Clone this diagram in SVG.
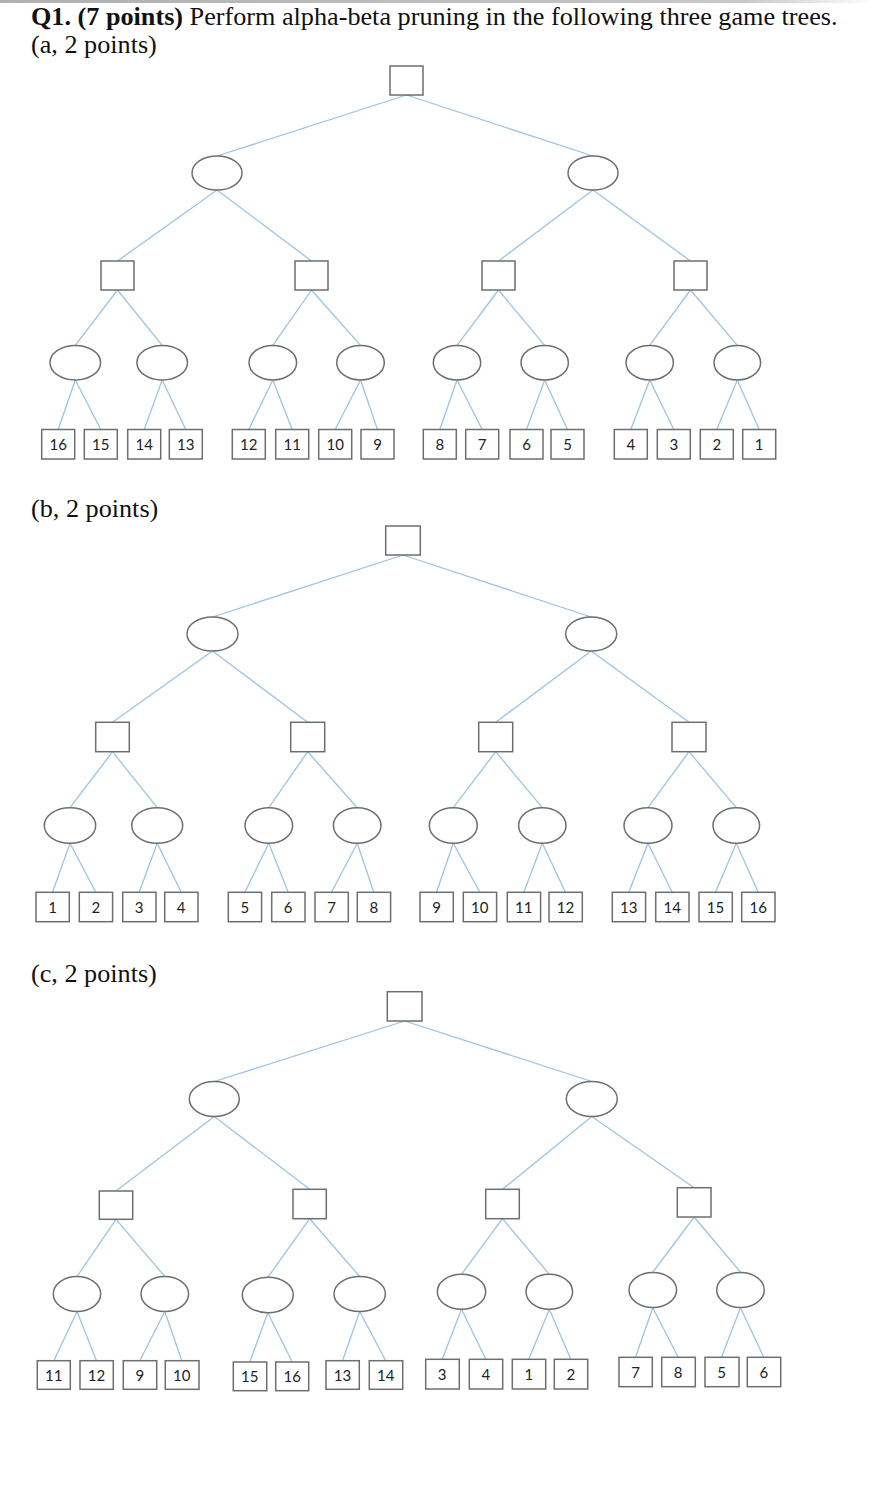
<svg xmlns="http://www.w3.org/2000/svg" width="876" height="1487" viewBox="0 0 876 1487">
<defs>
<linearGradient id="topg" x1="0" y1="0" x2="1" y2="0">
<stop offset="0" stop-color="#b0b0b0"/><stop offset="0.85" stop-color="#c8c8c8"/><stop offset="1" stop-color="#ffffff"/>
</linearGradient>
</defs>
<style>
.sq{fill:#fff;stroke:#6e6e6e;stroke-width:1.5}
.el{fill:#fff;stroke:#6e6e6e;stroke-width:1.5}
.lf{fill:#fff;stroke:#6e6e6e;stroke-width:1.5}
.cn line{stroke:#9dc3e6;stroke-width:1.3}
.num{font-family:Lato,"Open Sans","Liberation Sans",sans-serif;font-size:15px;fill:#222;text-anchor:middle}
.hd{font-family:"Liberation Serif","Times New Roman",serif;font-size:26.2px;fill:#111}
</style>
<rect x="0" y="0" width="876" height="1487" fill="#fff"/>
<rect x="0" y="0" width="876" height="3" fill="url(#topg)"/>
<text class="hd" x="31" y="25"><tspan font-weight="bold">Q1. (7 points)</tspan> Perform alpha-beta pruning in the following three game trees.</text>
<text class="hd" x="31" y="53">(a, 2 points)</text>
<text class="hd" x="31" y="517">(b, 2 points)</text>
<text class="hd" x="31" y="982">(c, 2 points)</text>

<g id="connectors" class="cn">
<!-- tree a -->
<line x1="406.5" y1="95" x2="217" y2="156"/><line x1="406.5" y1="95" x2="593" y2="156"/>
<line x1="217" y1="190" x2="117.5" y2="261"/><line x1="217" y1="190" x2="311.5" y2="261"/>
<line x1="593" y1="190" x2="498.5" y2="261"/><line x1="593" y1="190" x2="690.5" y2="261"/>
<line x1="117.5" y1="290" x2="75.3" y2="345.4"/><line x1="117.5" y1="290" x2="162.2" y2="345.4"/>
<line x1="311.5" y1="290" x2="272.8" y2="345.4"/><line x1="311.5" y1="290" x2="360.5" y2="345.4"/>
<line x1="498.5" y1="290" x2="457" y2="345.4"/><line x1="498.5" y1="290" x2="544.7" y2="345.4"/>
<line x1="690.5" y1="290" x2="649.7" y2="345.4"/><line x1="690.5" y1="290" x2="737.3" y2="345.4"/>
<line x1="75.3" y1="380" x2="58.2" y2="429.5"/><line x1="75.3" y1="380" x2="100.8" y2="429.5"/>
<line x1="162.2" y1="380" x2="144.2" y2="429.5"/><line x1="162.2" y1="380" x2="185.8" y2="429.5"/>
<line x1="272.8" y1="380" x2="248.8" y2="429.5"/><line x1="272.8" y1="380" x2="292.2" y2="429.5"/>
<line x1="360.5" y1="380" x2="335.2" y2="429.5"/><line x1="360.5" y1="380" x2="377.5" y2="429.5"/>
<line x1="457" y1="380" x2="439.8" y2="429.5"/><line x1="457" y1="380" x2="482.2" y2="429.5"/>
<line x1="544.7" y1="380" x2="526.5" y2="429.5"/><line x1="544.7" y1="380" x2="567.5" y2="429.5"/>
<line x1="649.7" y1="380" x2="630.8" y2="429.5"/><line x1="649.7" y1="380" x2="673.8" y2="429.5"/>
<line x1="737.3" y1="380" x2="716.8" y2="429.5"/><line x1="737.3" y1="380" x2="759.2" y2="429.5"/>
<!-- tree b -->
<line x1="403" y1="555" x2="212.5" y2="617"/><line x1="403" y1="555" x2="591.2" y2="617"/>
<line x1="212.5" y1="651" x2="112.5" y2="722.3"/><line x1="212.5" y1="651" x2="307.7" y2="722.3"/>
<line x1="591.2" y1="651" x2="495.7" y2="722.3"/><line x1="591.2" y1="651" x2="689" y2="722.3"/>
<line x1="112.5" y1="751.7" x2="70" y2="807.7"/><line x1="112.5" y1="751.7" x2="157.2" y2="807.7"/>
<line x1="307.7" y1="751.7" x2="268.8" y2="807.7"/><line x1="307.7" y1="751.7" x2="357.2" y2="807.7"/>
<line x1="495.7" y1="751.7" x2="453.3" y2="807.7"/><line x1="495.7" y1="751.7" x2="542.3" y2="807.7"/>
<line x1="689" y1="751.7" x2="648" y2="807.7"/><line x1="689" y1="751.7" x2="736.3" y2="807.7"/>
<line x1="70" y1="843.3" x2="52.5" y2="892.3"/><line x1="70" y1="843.3" x2="95.8" y2="892.3"/>
<line x1="157.2" y1="843.3" x2="139.2" y2="892.3"/><line x1="157.2" y1="843.3" x2="181.2" y2="892.3"/>
<line x1="268.8" y1="843.3" x2="244.8" y2="892.3"/><line x1="268.8" y1="843.3" x2="288.2" y2="892.3"/>
<line x1="357.2" y1="843.3" x2="331.5" y2="892.3"/><line x1="357.2" y1="843.3" x2="373.8" y2="892.3"/>
<line x1="453.3" y1="843.3" x2="436.5" y2="892.3"/><line x1="453.3" y1="843.3" x2="479.8" y2="892.3"/>
<line x1="542.3" y1="843.3" x2="523.8" y2="892.3"/><line x1="542.3" y1="843.3" x2="565.5" y2="892.3"/>
<line x1="648" y1="843.3" x2="628.8" y2="892.3"/><line x1="648" y1="843.3" x2="672.2" y2="892.3"/>
<line x1="736.3" y1="843.3" x2="715.5" y2="892.3"/><line x1="736.3" y1="843.3" x2="758.2" y2="892.3"/>
<!-- tree c -->
<line x1="404.7" y1="1021" x2="214.3" y2="1081.5"/><line x1="404.7" y1="1021" x2="591.8" y2="1081.5"/>
<line x1="214.3" y1="1116.5" x2="116" y2="1191"/><line x1="214.3" y1="1116.5" x2="309.7" y2="1189.3"/>
<line x1="591.8" y1="1116.5" x2="502.5" y2="1189.3"/><line x1="591.8" y1="1116.5" x2="694.2" y2="1187.7"/>
<line x1="116" y1="1219.3" x2="77" y2="1276.5"/><line x1="116" y1="1219.3" x2="164.8" y2="1276.5"/>
<line x1="309.7" y1="1218.7" x2="267.8" y2="1277.3"/><line x1="309.7" y1="1218.7" x2="359.7" y2="1276.5"/>
<line x1="502.5" y1="1218.7" x2="461.5" y2="1274.3"/><line x1="502.5" y1="1218.7" x2="549.3" y2="1274.3"/>
<line x1="694.2" y1="1217" x2="652.8" y2="1272.2"/><line x1="694.2" y1="1217" x2="740.5" y2="1272.2"/>
<line x1="77" y1="1311.5" x2="53.8" y2="1360.7"/><line x1="77" y1="1311.5" x2="96.5" y2="1360.7"/>
<line x1="164.8" y1="1311.5" x2="139.8" y2="1360.7"/><line x1="164.8" y1="1311.5" x2="181.8" y2="1360.7"/>
<line x1="267.8" y1="1312.7" x2="249.8" y2="1362"/><line x1="267.8" y1="1312.7" x2="292.2" y2="1362"/>
<line x1="359.7" y1="1311.5" x2="342.5" y2="1360.7"/><line x1="359.7" y1="1311.5" x2="385.8" y2="1360.7"/>
<line x1="461.5" y1="1309.3" x2="442.2" y2="1359.3"/><line x1="461.5" y1="1309.3" x2="485.8" y2="1359.3"/>
<line x1="549.3" y1="1309.3" x2="528.8" y2="1359.3"/><line x1="549.3" y1="1309.3" x2="570.8" y2="1359.3"/>
<line x1="652.8" y1="1307.8" x2="635.5" y2="1357.3"/><line x1="652.8" y1="1307.8" x2="678.2" y2="1357.3"/>
<line x1="740.5" y1="1307.8" x2="721.5" y2="1357.3"/><line x1="740.5" y1="1307.8" x2="763.8" y2="1357.3"/>
</g>

<!-- Tree a nodes -->
<g id="a-root"><rect class="sq" x="390" y="66" width="33" height="29"/></g>
<g id="a-n1"><ellipse class="el" cx="217" cy="173" rx="25" ry="17"/></g>
<g id="a-n2"><ellipse class="el" cx="593" cy="173" rx="25" ry="17"/></g>
<g id="a-n11"><rect class="sq" x="101" y="261" width="33" height="29"/></g>
<g id="a-n12"><rect class="sq" x="295" y="261" width="33" height="29"/></g>
<g id="a-n21"><rect class="sq" x="482" y="261" width="33" height="29"/></g>
<g id="a-n22"><rect class="sq" x="674" y="261" width="33" height="29"/></g>
<g id="a-m1"><ellipse class="el" cx="75.3" cy="362.7" rx="25.3" ry="17.3"/></g>
<g id="a-m2"><ellipse class="el" cx="162.2" cy="362.7" rx="25.3" ry="17.3"/></g>
<g id="a-m3"><ellipse class="el" cx="272.8" cy="362.7" rx="23.8" ry="17.3"/></g>
<g id="a-m4"><ellipse class="el" cx="360.5" cy="362.7" rx="23.8" ry="17.3"/></g>
<g id="a-m5"><ellipse class="el" cx="457" cy="362.7" rx="23.7" ry="17.3"/></g>
<g id="a-m6"><ellipse class="el" cx="544.7" cy="362.7" rx="23.7" ry="17.3"/></g>
<g id="a-m7"><ellipse class="el" cx="649.7" cy="362.7" rx="23.7" ry="17.3"/></g>
<g id="a-m8"><ellipse class="el" cx="737.3" cy="362.7" rx="23.3" ry="17.3"/></g>
<g id="a-l1"><rect class="lf" x="41.7" y="429.5" width="33" height="29.5"/><text class="num" x="58.2" y="449.5">16</text></g>
<g id="a-l2"><rect class="lf" x="84.3" y="429.5" width="33" height="29.5"/><text class="num" x="100.8" y="449.5">15</text></g>
<g id="a-l3"><rect class="lf" x="127.7" y="429.5" width="33" height="29.5"/><text class="num" x="144.2" y="449.5">14</text></g>
<g id="a-l4"><rect class="lf" x="169.3" y="429.5" width="33" height="29.5"/><text class="num" x="185.8" y="449.5">13</text></g>
<g id="a-l5"><rect class="lf" x="232.3" y="429.5" width="33" height="29.5"/><text class="num" x="248.8" y="449.5">12</text></g>
<g id="a-l6"><rect class="lf" x="275.7" y="429.5" width="33" height="29.5"/><text class="num" x="292.2" y="449.5">11</text></g>
<g id="a-l7"><rect class="lf" x="318.7" y="429.5" width="33" height="29.5"/><text class="num" x="335.2" y="449.5">10</text></g>
<g id="a-l8"><rect class="lf" x="361" y="429.5" width="33" height="29.5"/><text class="num" x="377.5" y="449.5">9</text></g>
<g id="a-l9"><rect class="lf" x="423.3" y="429.5" width="33" height="29.5"/><text class="num" x="439.8" y="449.5">8</text></g>
<g id="a-l10"><rect class="lf" x="465.7" y="429.5" width="33" height="29.5"/><text class="num" x="482.2" y="449.5">7</text></g>
<g id="a-l11"><rect class="lf" x="510" y="429.5" width="33" height="29.5"/><text class="num" x="526.5" y="449.5">6</text></g>
<g id="a-l12"><rect class="lf" x="551" y="429.5" width="33" height="29.5"/><text class="num" x="567.5" y="449.5">5</text></g>
<g id="a-l13"><rect class="lf" x="614.3" y="429.5" width="33" height="29.5"/><text class="num" x="630.8" y="449.5">4</text></g>
<g id="a-l14"><rect class="lf" x="657.3" y="429.5" width="33" height="29.5"/><text class="num" x="673.8" y="449.5">3</text></g>
<g id="a-l15"><rect class="lf" x="700.3" y="429.5" width="33" height="29.5"/><text class="num" x="716.8" y="449.5">2</text></g>
<g id="a-l16"><rect class="lf" x="742.7" y="429.5" width="33" height="29.5"/><text class="num" x="759.2" y="449.5">1</text></g>

<!-- Tree b nodes -->
<g id="b-root"><rect class="sq" x="385.7" y="526" width="34.6" height="29"/></g>
<g id="b-n1"><ellipse class="el" cx="212.5" cy="634" rx="25.5" ry="17"/></g>
<g id="b-n2"><ellipse class="el" cx="591.2" cy="634" rx="25.5" ry="17"/></g>
<g id="b-n11"><rect class="sq" x="95.7" y="722.3" width="33.6" height="29.4"/></g>
<g id="b-n12"><rect class="sq" x="290.7" y="722.3" width="34" height="29.4"/></g>
<g id="b-n21"><rect class="sq" x="478.7" y="722.3" width="34" height="29.4"/></g>
<g id="b-n22"><rect class="sq" x="672" y="722.3" width="34" height="29.4"/></g>
<g id="b-m1"><ellipse class="el" cx="70" cy="825.5" rx="25.7" ry="17.8"/></g>
<g id="b-m2"><ellipse class="el" cx="157.2" cy="825.5" rx="25.5" ry="17.8"/></g>
<g id="b-m3"><ellipse class="el" cx="268.8" cy="825.5" rx="23.8" ry="17.8"/></g>
<g id="b-m4"><ellipse class="el" cx="357.2" cy="825.5" rx="23.8" ry="17.8"/></g>
<g id="b-m5"><ellipse class="el" cx="453.3" cy="825.5" rx="24" ry="17.8"/></g>
<g id="b-m6"><ellipse class="el" cx="542.3" cy="825.5" rx="23.7" ry="17.8"/></g>
<g id="b-m7"><ellipse class="el" cx="648" cy="825.5" rx="24" ry="17.8"/></g>
<g id="b-m8"><ellipse class="el" cx="736.3" cy="825.5" rx="23.3" ry="17.8"/></g>
<g id="b-l1"><rect class="lf" x="36" y="892.3" width="33.3" height="29.4"/><text class="num" x="52.5" y="912.5">1</text></g>
<g id="b-l2"><rect class="lf" x="79.3" y="892.3" width="33.3" height="29.4"/><text class="num" x="95.8" y="912.5">2</text></g>
<g id="b-l3"><rect class="lf" x="122.7" y="892.3" width="33.3" height="29.4"/><text class="num" x="139.2" y="912.5">3</text></g>
<g id="b-l4"><rect class="lf" x="164.7" y="892.3" width="33.3" height="29.4"/><text class="num" x="181.2" y="912.5">4</text></g>
<g id="b-l5"><rect class="lf" x="228.3" y="892.3" width="33.3" height="29.4"/><text class="num" x="244.8" y="912.5">5</text></g>
<g id="b-l6"><rect class="lf" x="271.7" y="892.3" width="33.3" height="29.4"/><text class="num" x="288.2" y="912.5">6</text></g>
<g id="b-l7"><rect class="lf" x="315" y="892.3" width="33.3" height="29.4"/><text class="num" x="331.5" y="912.5">7</text></g>
<g id="b-l8"><rect class="lf" x="357.3" y="892.3" width="33.3" height="29.4"/><text class="num" x="373.8" y="912.5">8</text></g>
<g id="b-l9"><rect class="lf" x="420" y="892.3" width="33.3" height="29.4"/><text class="num" x="436.5" y="912.5">9</text></g>
<g id="b-l10"><rect class="lf" x="463.3" y="892.3" width="33.3" height="29.4"/><text class="num" x="479.8" y="912.5">10</text></g>
<g id="b-l11"><rect class="lf" x="507.3" y="892.3" width="33.3" height="29.4"/><text class="num" x="523.8" y="912.5">11</text></g>
<g id="b-l12"><rect class="lf" x="549" y="892.3" width="33.3" height="29.4"/><text class="num" x="565.5" y="912.5">12</text></g>
<g id="b-l13"><rect class="lf" x="612.3" y="892.3" width="33.3" height="29.4"/><text class="num" x="628.8" y="912.5">13</text></g>
<g id="b-l14"><rect class="lf" x="655.7" y="892.3" width="33.3" height="29.4"/><text class="num" x="672.2" y="912.5">14</text></g>
<g id="b-l15"><rect class="lf" x="699" y="892.3" width="33.3" height="29.4"/><text class="num" x="715.5" y="912.5">15</text></g>
<g id="b-l16"><rect class="lf" x="741.7" y="892.3" width="33.3" height="29.4"/><text class="num" x="758.2" y="912.5">16</text></g>

<!-- Tree c nodes -->
<g id="c-root"><rect class="sq" x="387.3" y="991.7" width="34.7" height="29.3"/></g>
<g id="c-n1"><ellipse class="el" cx="214.3" cy="1099" rx="25" ry="17.5"/></g>
<g id="c-n2"><ellipse class="el" cx="591.8" cy="1099" rx="25.5" ry="17.5"/></g>
<g id="c-n11"><rect class="sq" x="99.3" y="1191" width="33.4" height="28.3"/></g>
<g id="c-n12"><rect class="sq" x="293" y="1189.3" width="33.3" height="29.4"/></g>
<g id="c-n21"><rect class="sq" x="485.7" y="1189.3" width="33.6" height="29.4"/></g>
<g id="c-n22"><rect class="sq" x="677.3" y="1187.7" width="33.7" height="29.3"/></g>
<g id="c-m1"><ellipse class="el" cx="77" cy="1294" rx="23.7" ry="17.5"/></g>
<g id="c-m2"><ellipse class="el" cx="164.8" cy="1294" rx="23.8" ry="17.5"/></g>
<g id="c-m3"><ellipse class="el" cx="267.8" cy="1295" rx="25.5" ry="17.7"/></g>
<g id="c-m4"><ellipse class="el" cx="359.7" cy="1294" rx="25.7" ry="17.5"/></g>
<g id="c-m5"><ellipse class="el" cx="461.5" cy="1291.8" rx="24.2" ry="17.5"/></g>
<g id="c-m6"><ellipse class="el" cx="549.3" cy="1291.8" rx="23.3" ry="17.5"/></g>
<g id="c-m7"><ellipse class="el" cx="652.8" cy="1290" rx="23.8" ry="17.5"/></g>
<g id="c-m8"><ellipse class="el" cx="740.5" cy="1290" rx="23.8" ry="17.5"/></g>
<g id="c-l1"><rect class="lf" x="37.3" y="1360.7" width="33" height="28.6"/><text class="num" x="53.8" y="1380.5">11</text></g>
<g id="c-l2"><rect class="lf" x="80" y="1360.7" width="33.3" height="28.6"/><text class="num" x="96.5" y="1380.5">12</text></g>
<g id="c-l3"><rect class="lf" x="123.3" y="1360.7" width="33.4" height="28.6"/><text class="num" x="139.8" y="1380.5">9</text></g>
<g id="c-l4"><rect class="lf" x="165.3" y="1360.7" width="33.7" height="28.6"/><text class="num" x="181.8" y="1380.5">10</text></g>
<g id="c-l5"><rect class="lf" x="233.3" y="1362" width="33.4" height="28.7"/><text class="num" x="249.8" y="1382">15</text></g>
<g id="c-l6"><rect class="lf" x="275.7" y="1362" width="33" height="28.7"/><text class="num" x="292.2" y="1382">16</text></g>
<g id="c-l7"><rect class="lf" x="326" y="1360.7" width="33.3" height="28.6"/><text class="num" x="342.5" y="1380.5">13</text></g>
<g id="c-l8"><rect class="lf" x="369.3" y="1360.7" width="33.4" height="28.6"/><text class="num" x="385.8" y="1380.5">14</text></g>
<g id="c-l9"><rect class="lf" x="425.7" y="1359.3" width="33.6" height="29.7"/><text class="num" x="442.2" y="1379.5">3</text></g>
<g id="c-l10"><rect class="lf" x="469.3" y="1359.3" width="33.4" height="29.7"/><text class="num" x="485.8" y="1379.5">4</text></g>
<g id="c-l11"><rect class="lf" x="512.3" y="1359.3" width="33.4" height="29.7"/><text class="num" x="528.8" y="1379.5">1</text></g>
<g id="c-l12"><rect class="lf" x="554.3" y="1359.3" width="33.4" height="29.7"/><text class="num" x="570.8" y="1379.5">2</text></g>
<g id="c-l13"><rect class="lf" x="619" y="1357.3" width="33.3" height="29.4"/><text class="num" x="635.5" y="1377.5">7</text></g>
<g id="c-l14"><rect class="lf" x="661.7" y="1357.3" width="33.6" height="29.4"/><text class="num" x="678.2" y="1377.5">8</text></g>
<g id="c-l15"><rect class="lf" x="705" y="1357.3" width="34" height="29.4"/><text class="num" x="721.5" y="1377.5">5</text></g>
<g id="c-l16"><rect class="lf" x="747.3" y="1357.3" width="33.4" height="29.4"/><text class="num" x="763.8" y="1377.5">6</text></g>
</svg>
